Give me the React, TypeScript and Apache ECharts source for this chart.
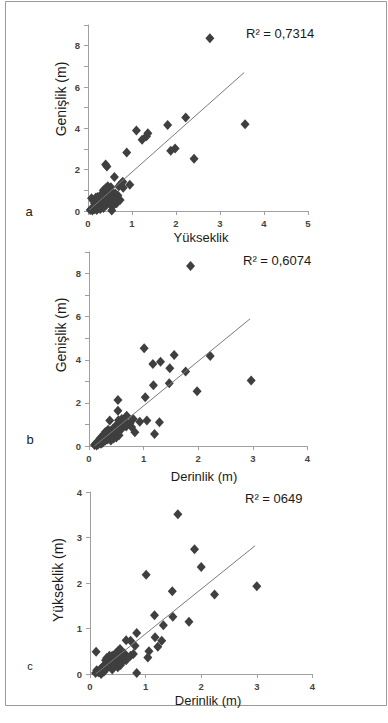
import React, { useEffect, useRef } from "react";
import * as echarts from "echarts";

// Panel a: Yükseklik (x) vs Genişlik (y)
const pointsA: number[][] = [
  [2.77, 8.36], [3.57, 4.2], [2.22, 4.52], [1.81, 4.16], [1.1, 3.9], [1.33, 3.62], [1.23, 3.45],
  [1.36, 3.76], [1.98, 3.02], [1.88, 2.92], [2.41, 2.53], [0.88, 2.83], [0.4, 2.25], [0.43, 2.15],
  [0.6, 1.64], [0.79, 1.42], [0.95, 1.27], [0.8, 1.12], [0.54, 0.02], [0.08, 0.62],
  [0.65, 0.37], [0.73, 0.53], [0.68, 0.75],
  [0.05, 0.05], [0.08, 0.1], [0.1, 0.02], [0.12, 0.15], [0.15, 0.08], [0.18, 0.2], [0.2, 0.05],
  [0.22, 0.3], [0.25, 0.15], [0.28, 0.4], [0.3, 0.25], [0.32, 0.55], [0.35, 0.35], [0.38, 0.7],
  [0.4, 0.5], [0.42, 0.85], [0.45, 0.6], [0.48, 1.0], [0.5, 0.75], [0.52, 1.15], [0.55, 0.9],
  [0.58, 0.7], [0.6, 0.5], [0.62, 0.85], [0.7, 1.2], [0.75, 1.32], [0.35, 1.0], [0.3, 0.8],
  [0.25, 0.6], [0.2, 0.45], [0.15, 0.35], [0.12, 0.5], [0.18, 0.65], [0.28, 0.1], [0.35, 0.15],
  [0.42, 0.3], [0.5, 0.35], [0.55, 0.2], [0.45, 1.2], [0.4, 1.1], [0.22, 0.68], [0.6, 0.62],
];
// Panel b: Derinlik (x) vs Genişlik (y)
const pointsB: number[][] = [
  [1.86, 8.35], [2.97, 3.04], [1.01, 4.53], [1.56, 4.22], [2.22, 4.17], [1.17, 3.8], [1.31, 3.91],
  [1.48, 3.61], [1.77, 3.46], [1.47, 2.91], [1.18, 2.82], [1.98, 2.54], [1.03, 2.26], [0.53, 2.13],
  [0.53, 1.64], [0.38, 1.18], [1.06, 1.18], [1.29, 1.1], [1.2, 0.56], [0.84, 0.64], [0.69, 1.4],
  [0.81, 1.25], [0.78, 0.88], [0.75, 1.05], [0.93, 1.13],
  [0.1, 0.05], [0.12, 0.1], [0.14, 0.02], [0.15, 0.15], [0.17, 0.08], [0.2, 0.2], [0.22, 0.1],
  [0.24, 0.3], [0.25, 0.15], [0.28, 0.4], [0.3, 0.25], [0.32, 0.5], [0.34, 0.3], [0.36, 0.6],
  [0.38, 0.4], [0.4, 0.7], [0.42, 0.45], [0.44, 0.8], [0.46, 0.55], [0.48, 0.9], [0.5, 0.6],
  [0.52, 1.0], [0.55, 0.7], [0.58, 1.1], [0.6, 0.8], [0.62, 0.95], [0.65, 1.2], [0.68, 0.9],
  [0.7, 1.05], [0.3, 0.65], [0.27, 0.55], [0.35, 0.75], [0.45, 0.35], [0.5, 0.4], [0.4, 0.25],
  [0.55, 0.5], [0.2, 0.35], [0.18, 0.25], [0.6, 1.25], [0.54, 1.2],
];
// Panel c: Derinlik (x) vs Yükseklik (y)
const pointsC: number[][] = [
  [1.58, 3.51], [1.88, 2.74], [2.0, 2.35], [3.0, 1.93], [1.01, 2.18], [1.48, 1.82], [2.24, 1.75],
  [1.16, 1.29], [1.49, 1.26], [1.78, 1.15], [1.32, 1.07], [0.84, 0.9], [1.17, 0.81], [1.29, 0.73],
  [1.22, 0.6], [1.06, 0.5], [1.04, 0.36], [0.84, 0.02], [0.65, 0.74], [0.73, 0.73], [0.81, 0.62],
  [0.78, 0.44], [0.73, 0.4], [0.11, 0.49],
  [0.1, 0.02], [0.12, 0.08], [0.15, 0.04], [0.18, 0.1], [0.2, 0.0], [0.22, 0.15], [0.24, 0.07],
  [0.26, 0.2], [0.28, 0.3], [0.3, 0.12], [0.32, 0.25], [0.34, 0.35], [0.36, 0.18], [0.38, 0.3],
  [0.4, 0.4], [0.42, 0.22], [0.44, 0.33], [0.46, 0.45], [0.48, 0.28], [0.5, 0.5], [0.52, 0.35],
  [0.54, 0.55], [0.56, 0.25], [0.58, 0.4], [0.6, 0.3], [0.62, 0.45], [0.3, 0.35], [0.35, 0.4],
  [0.25, 0.05], [0.45, 0.2], [0.5, 0.15], [0.55, 0.2], [0.4, 0.1], [0.65, 0.3],
];

// Trend line endpoints
const trendA: number[][] = [[0.03, 0.05], [3.55, 6.7]];
const trendB: number[][] = [[0.1, 0.0], [2.95, 5.9]];
const trendC: number[][] = [[0.1, 0.0], [2.97, 2.82]];

const r2Labels = ["R² = 0,7314", "R² = 0,6074", "R² = 0649"];
const xNames = ["Yükseklik", "Derinlik (m)", "Derinlik (m)"];
const yNames = ["Genişlik (m)", "Genişlik (m)", "Yükseklik (m)"];
const panelLetters = ["a", "b", "c"];
const xMaxes = [5, 4, 4];
const yMaxes = [9, 9, 4];

const FONT = "Liberation Sans";

export default function App() {
  const ref = useRef<HTMLDivElement>(null);
  useEffect(() => {
    if (!ref.current) return;
    const chart = echarts.init(ref.current, undefined, { renderer: "svg" });

    const grids = [
      { left: 88, top: 25, width: 220, height: 186 },
      { left: 89, top: 252, width: 218.4, height: 194 },
      { left: 90, top: 492, width: 222.4, height: 182 },
    ];

    const axisCommon = {
      axisLine: { show: true, lineStyle: { color: "#a0a0a0", width: 1 } },
      axisTick: { show: true, length: 4, lineStyle: { color: "#a0a0a0" } },
      splitLine: { show: false },
      axisLabel: {
        color: "#4a4238",
        fontSize: 9.5,
        fontWeight: "bold" as const,
        fontFamily: FONT,
      },
    };

    const xAxis = grids.map((_, i) => ({
      type: "value" as const,
      gridIndex: i,
      min: 0,
      max: xMaxes[i],
      interval: 1,
      ...axisCommon,
      axisLabel: { ...axisCommon.axisLabel, margin: 7 },
    }));
    const yAxis = grids.map((_, i) => ({
      type: "value" as const,
      gridIndex: i,
      min: 0,
      max: yMaxes[i],
      interval: 1,
      ...axisCommon,
      axisLabel: {
        ...axisCommon.axisLabel,
        margin: 8,
        formatter: (v: number) => (yMaxes[i] > 5 ? (v % 2 === 0 ? String(v) : "") : String(v)),
      },
    }));

    const pts = [pointsA, pointsB, pointsC];
    const trends = [trendA, trendB, trendC];
    const series: any[] = [];
    pts.forEach((p, i) => {
      series.push({
        type: "scatter",
        xAxisIndex: i,
        yAxisIndex: i,
        data: p,
        symbol: "diamond",
        symbolSize: [9, 10],
        itemStyle: { color: "#3f3f3f", opacity: 1 },
        z: 2,
      });
      series.push({
        type: "line",
        xAxisIndex: i,
        yAxisIndex: i,
        data: trends[i],
        symbol: "none",
        lineStyle: { color: "#7a7a7a", width: 1 },
        z: 3,
      });
    });

    const textStyle = (s: string, size: number, align = "center") => ({
      text: s,
      fill: "#1a1a1a",
      fontSize: size,
      fontFamily: FONT,
      align,
      verticalAlign: "middle",
    });

    const r2Pos = [[246, 33], [243, 260], [245, 498]];
    const xNamePos = [[201, 237], [204, 476], [208, 700]];
    const yNamePos = [[61, 99], [61, 335], [58, 580]];
    const letterPos = [[29, 211], [30, 439], [30, 666]];

    const graphic: any[] = [
      {
        type: "rect",
        shape: { x: 5.5, y: 1.5, width: 381, height: 704 },
        style: { fill: "none", stroke: "#9a9a9a", lineWidth: 1 },
        silent: true,
      },
    ];
    for (let i = 0; i < 3; i++) {
      graphic.push({
        type: "text",
        x: r2Pos[i][0],
        y: r2Pos[i][1],
        style: textStyle(r2Labels[i], 13, "left"),
      });
      graphic.push({
        type: "text",
        x: xNamePos[i][0],
        y: xNamePos[i][1],
        style: textStyle(xNames[i], 13),
      });
      graphic.push({
        type: "text",
        x: yNamePos[i][0],
        y: yNamePos[i][1],
        rotation: Math.PI / 2,
        style: textStyle(yNames[i], 14),
      });
      graphic.push({
        type: "text",
        x: letterPos[i][0],
        y: letterPos[i][1],
        style: textStyle(panelLetters[i], i === 2 ? 11 : 13),
      });
    }

    chart.setOption({
      animation: false,
      backgroundColor: "#ffffff",
      grid: grids,
      xAxis,
      yAxis,
      series,
      graphic,
    });
    return () => chart.dispose();
  }, []);

  return (
    <div
      ref={ref}
      style={{ position: "absolute", left: 0, top: 0, width: 388, height: 723, background: "#fff" }}
    />
  );
}
